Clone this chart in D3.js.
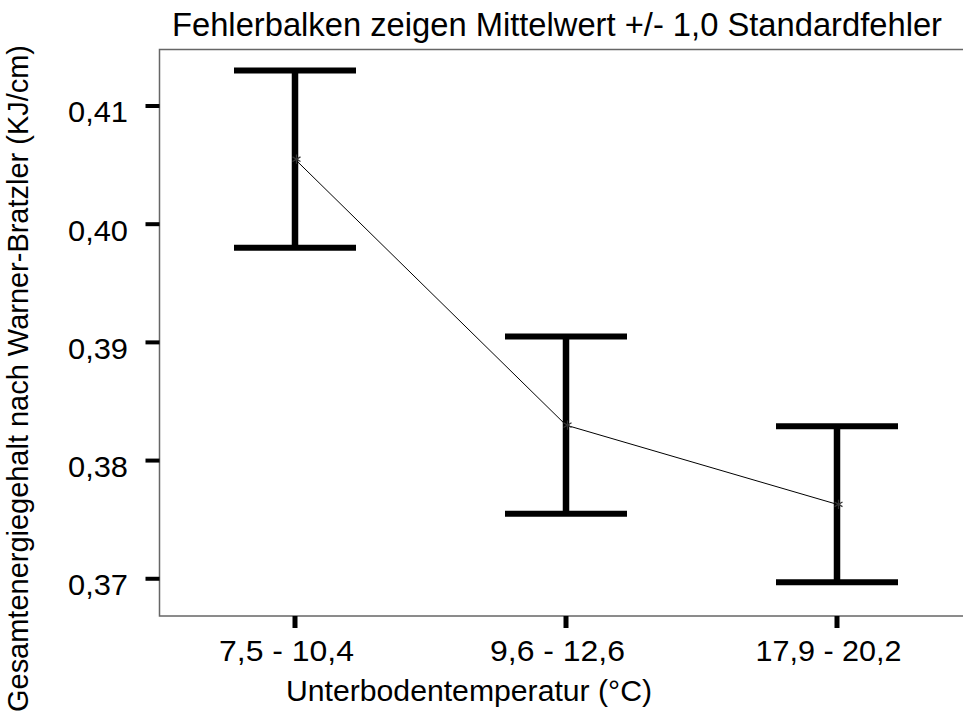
<!DOCTYPE html>
<html>
<head>
<meta charset="utf-8">
<script src="https://cdn.jsdelivr.net/npm/d3@7"></script>
<style>
  html, body { margin: 0; padding: 0; background: #fff; }
  text { font-family: "Liberation Sans", Arial, sans-serif; fill: #000; }
</style>
</head>
<body>
<svg id="chart" width="963" height="723"></svg>
<script>
// Temperature classes of the subsoil and mean total energy (Warner-Bratzler)
const categories = ["7,5 - 10,4", "9,6 - 12,6", "17,9 - 20,2"];
const means = [0.4055, 0.3830, 0.3763];
const stdErrors = [0.0075, 0.0075, 0.0066];
const yTicks = [0.37, 0.38, 0.39, 0.40, 0.41];

const titleText = "Fehlerbalken zeigen Mittelwert +/- 1,0 Standardfehler";
const xTitle = "Unterbodentemperatur (°C)";
const yTitle = "Gesamtenergiegehalt nach Warner-Bratzler (KJ/cm)";

const svg = d3.select("#chart");
const plot = { left: 159.5, top: 49.5, right: 972.5, bottom: 616 };

const x = d3.scalePoint()
  .domain(categories)
  .range([plot.left, plot.right])
  .padding(0.5);

const y = d3.scaleLinear()
  .domain([0.36685, 0.41478])
  .range([plot.bottom, plot.top]);

const fmt = v => d3.format(".2f")(v).replace(".", ",");

// plot frame
svg.append("rect")
  .attr("x", plot.left).attr("y", plot.top)
  .attr("width", plot.right - plot.left)
  .attr("height", plot.bottom - plot.top)
  .attr("fill", "none")
  .attr("stroke", "#666")
  .attr("stroke-width", 1.5);

// y axis ticks and labels
const yAxis = svg.append("g");
yAxis.selectAll("line").data(yTicks).join("line")
  .attr("x1", plot.left - 14).attr("x2", plot.left)
  .attr("y1", d => y(d)).attr("y2", d => y(d))
  .attr("stroke", "#000").attr("stroke-width", 4);
yAxis.selectAll("text").data(yTicks).join("text")
  .attr("x", 128)
  .attr("y", d => y(d) + 16.5)
  .attr("text-anchor", "end")
  .attr("font-size", 29.5)
  .attr("textLength", 60)
  .attr("lengthAdjust", "spacingAndGlyphs")
  .text(fmt);

// x axis ticks and labels
const xAxis = svg.append("g");
xAxis.selectAll("line").data(categories).join("line")
  .attr("x1", d => x(d)).attr("x2", d => x(d))
  .attr("y1", plot.bottom).attr("y2", plot.bottom + 12)
  .attr("stroke", "#000").attr("stroke-width", 5);
xAxis.selectAll("text").data(categories).join("text")
  .attr("x", d => x(d) - 8.5)
  .attr("y", 660.5)
  .attr("text-anchor", "middle")
  .attr("font-size", 29.5)
  .attr("textLength", d => d.length > 10 ? 146 : 135)
  .attr("lengthAdjust", "spacingAndGlyphs")
  .text(d => d);

// error bars
const rows = categories.map((c, i) => ({ cat: c, mean: means[i], se: stdErrors[i] }));
const bars = svg.append("g");
bars.selectAll("line.stem").data(rows).join("line")
  .attr("class", "stem")
  .attr("x1", d => x(d.cat)).attr("x2", d => x(d.cat))
  .attr("y1", d => y(d.mean + d.se)).attr("y2", d => y(d.mean - d.se))
  .attr("stroke", "#000").attr("stroke-width", 6.5);
["upper", "lower"].forEach(side => {
  bars.selectAll("line." + side).data(rows).join("line")
    .attr("class", side)
    .attr("x1", d => x(d.cat) - 61).attr("x2", d => x(d.cat) + 61)
    .attr("y1", d => y(side === "upper" ? d.mean + d.se : d.mean - d.se))
    .attr("y2", d => y(side === "upper" ? d.mean + d.se : d.mean - d.se))
    .attr("stroke", "#000").attr("stroke-width", 6);
});

// mean line
svg.append("path")
  .datum(rows)
  .attr("fill", "none")
  .attr("stroke", "#000")
  .attr("stroke-width", 1)
  .attr("d", d3.line().x(d => x(d.cat)).y(d => y(d.mean)));

// mean markers
svg.append("g").selectAll("path").data(rows).join("path")
  .attr("transform", d => `translate(${x(d.cat) + 1.5},${y(d.mean)})`)
  .attr("d", d3.symbol().type(d3.symbolAsterisk).size(60))
  .attr("fill", "none")
  .attr("stroke", "#333")
  .attr("stroke-width", 1.2);

// titles
svg.append("text")
  .attr("x", 557).attr("y", 36)
  .attr("text-anchor", "middle")
  .attr("font-size", 32.5)
  .attr("textLength", 770)
  .attr("lengthAdjust", "spacingAndGlyphs")
  .text(titleText);

svg.append("text")
  .attr("x", 469).attr("y", 700.5)
  .attr("text-anchor", "middle")
  .attr("font-size", 29.5)
  .attr("textLength", 366)
  .attr("lengthAdjust", "spacingAndGlyphs")
  .text(xTitle);

svg.append("text")
  .attr("transform", "translate(28,378.5) rotate(-90)")
  .attr("text-anchor", "middle")
  .attr("font-size", 29)
  .attr("textLength", 667)
  .attr("lengthAdjust", "spacingAndGlyphs")
  .text(yTitle);
</script>
</body>
</html>
